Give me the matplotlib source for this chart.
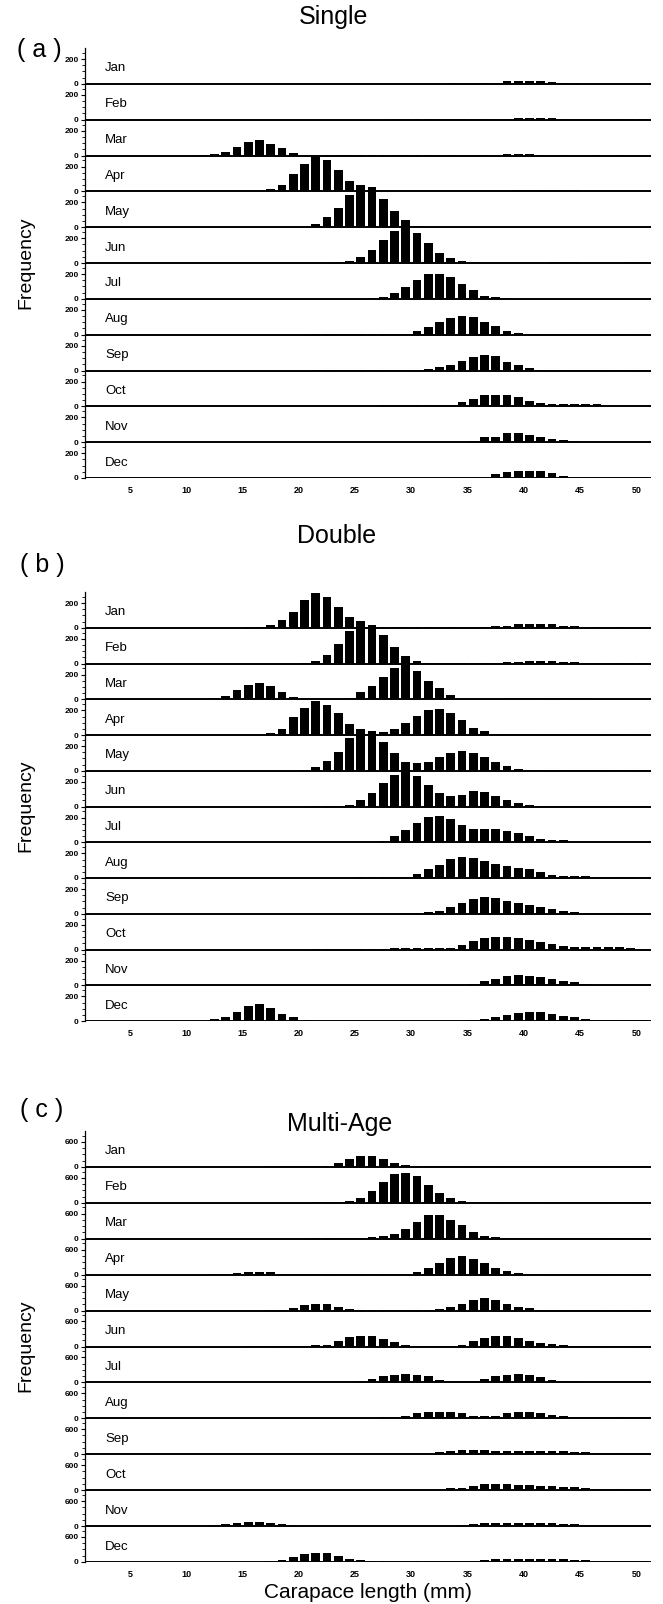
import matplotlib
matplotlib.use('Agg')
import matplotlib.pyplot as plt
import numpy as np
from matplotlib.ticker import FixedLocator

plt.rcParams['font.family'] = ['Liberation Sans', 'DejaVu Sans']

# ---------------- data ----------------
lengths = list(range(1, 51))          # 1-mm carapace length classes (lower bound, mm)
months = ['Jan', 'Feb', 'Mar', 'Apr', 'May', 'Jun',
          'Jul', 'Aug', 'Sep', 'Oct', 'Nov', 'Dec']
x_ticks = [5, 10, 15, 20, 25, 30, 35, 40, 45, 50]

# (a) Single
single_jan = [0]*10 + [0]*10 + [0,0,0,0,0,0,0,2,2,2] + [2,2,3,3,4,8,10,20,25,25] + [20,12,6,3,2,2,2,2,2,2]
single_feb = [0]*10 + [0]*10 + [0,0,0,0,0,0,0,2,2,2] + [2,2,2,2,3,3,5,8,10,12] + [15,15,8,5,3,3,2,2,2,2]
single_mar = [0]*10 + [3,10,28,72,110,128,97,59,20,4] + [3,2,2,2,2,2,2,2,2,2] + [2,2,3,3,4,6,8,10,10,10] + [8,5,4,3,3,2,2,2,2,2]
single_apr = [0]*10 + [0,0,0,0,2,5,20,51,143,223] + [277,251,171,86,25,8,3,2,2,2] + [2,2,2,2,3,3,4,5,8,12] + [12,12,10,8,4,3,2,2,2,2]
single_may = [0]*10 + [0,0,0,0,0,0,0,0,3,5] + [29,82,153,259,338,323,229,132,59,12] + [4,3,2,2,2,2,2,2,2,2] + [3,3,3,3,2,2,2,2,2,2]
single_jun = [0]*10 + [0]*10 + [2,2,5,14,50,108,185,255,285,240] + [160,82,40,17,5,3,3,3,2,2] + [3,8,8,8,3,2,2,3,5,5]
single_jul = [0]*10 + [0]*10 + [2,2,2,2,2,3,14,50,97,155] + [205,205,175,118,70,22,14,3,2,2] + [2,2,2,2,2,2,2,2,2,2]
single_aug = [0]*10 + [0]*10 + [2,2,2,2,2,2,2,2,5,28] + [62,106,138,155,140,105,67,33,12,3] + [2,2,2,2,2,2,2,2,2,2]
single_sep = [0]*10 + [0]*10 + [2,2,2,2,2,2,2,2,2,3] + [14,29,43,80,109,123,114,71,43,20] + [3,2,2,2,2,2,2,2,2,2]
single_oct = [0]*10 + [0]*10 + [2,2,2,2,2,2,8,8,8,8] + [10,10,12,32,61,88,93,93,75,45] + [29,16,16,16,16,16,3,2,2,2]
single_nov = [0]*10 + [0]*10 + [2,2,2,2,2,2,2,2,2,2] + [3,3,3,3,13,40,45,72,72,59] + [40,24,19,8,4,3,3,3,5,5]
single_dec = [0]*10 + [0,0,2,2,2,2,2,2,2,2] + [2,2,2,2,2,2,2,2,2,2] + [3,3,5,5,5,12,30,45,58,58] + [55,38,20,12,7,5,5,5,5,5]

# (b) Double
double_jan = [0]*10 + [0,0,0,2,3,6,19,61,125,228] + [278,250,172,89,20,5,3,3,3,3] + [3,3,3,3,5,8,14,14,33,33] + [33,30,17,14,8,6,6,6,6,3]
double_feb = [0]*10 + [0,0,0,0,0,0,0,0,0,3] + [20,70,157,261,348,316,229,131,58,20] + [5,3,2,2,2,3,5,10,12,18] + [22,20,15,10,8,6,5,4,3,3]
double_mar = [0]*10 + [5,14,27,74,115,132,104,60,22,4] + [2,2,3,14,55,104,178,252,274,233] + [151,88,33,6,3,3,5,8,10,10] + [12,12,10,10,8,5,4,3,3,3]
double_apr = [0]*10 + [0,0,0,0,3,3,20,49,143,220] + [272,243,177,86,29,20,23,49,94,157] + [206,209,177,120,57,29,12,6,6,6] + [6,6,6,6,6,6,6,6,6,6]
double_may = [0]*10 + [0,0,0,0,0,0,0,2,2,8] + [29,79,156,265,338,323,235,141,74,59] + [74,112,147,162,147,112,68,35,15,6] + [6,6,6,6,6,6,6,6,6,6]
double_jun = [0]*10 + [0]*10 + [2,2,5,14,50,111,189,258,278,245] + [172,111,83,97,125,120,83,56,28,14] + [6,6,6,6,6,6,6,6,6,6]
double_jul = [0]*10 + [0]*10 + [2,2,2,2,2,5,14,49,100,157] + [206,214,186,143,109,109,106,94,77,49] + [23,20,20,5,3,2,2,2,2,2]
double_aug = [0]*10 + [0]*10 + [2,2,2,2,5,5,5,5,8,33] + [69,103,153,167,161,139,117,97,83,69] + [50,22,14,14,14,12,12,10,6,3]
double_sep = [0]*10 + [0]*10 + [2,2,2,2,2,2,2,2,3,5] + [12,20,55,84,122,136,128,107,87,70] + [55,35,20,12,6,6,6,6,6,6]
double_oct = [0]*10 + [0]*10 + [2,2,2,2,2,2,2,12,12,12] + [12,12,15,40,67,93,101,101,93,75] + [61,45,27,21,21,21,21,18,15,5]
double_nov = [0]*10 + [0]*10 + [2,2,2,2,2,2,2,2,2,2] + [3,3,3,3,14,34,51,71,80,71] + [66,49,37,23,14,5,3,3,3,3]
double_dec = [0,0,0,0,0,0,0,0,3,3] + [4,14,34,77,120,137,106,57,29,8] + [3,3,3,3,3,3,3,3,3,3] + [3,3,3,3,5,14,29,49,66,71] + [71,57,43,29,14,5,5,5,5,5]

# (c) Multi-Age
multi_jan = [0]*10 + [0,0,0,0,0,0,15,15,15,15] + [17,25,100,183,250,250,192,100,42,20] + [20]*10 + [20]*10
multi_feb = [0]*10 + [0]*10 + [10,10,10,42,125,292,500,692,725,642] + [433,225,108,42,15,15,15,15,15,15] + [15]*10
multi_mar = [0]*10 + [0]*10 + [10,10,10,10,10,33,58,125,225,408] + [558,575,458,325,158,75,33,15,15,15] + [15]*10
multi_apr = [0]*10 + [0,10,17,42,67,75,67,25,15,12] + [12,12,12,12,12,12,12,12,25,67] + [150,275,400,442,383,275,167,83,42,25] + [15]*10
multi_may = [0]*10 + [0,0,0,0,0,0,10,25,67,125] + [150,150,92,42,25,10,10,10,10,10] + [10,42,92,167,250,292,250,150,92,50] + [25,15,15,15,10,10,10,10,10,10]
multi_jun = [0]*10 + [0,0,0,0,10,10,10,10,12,20] + [25,42,125,225,250,242,183,100,42,15] + [15,15,15,42,142,200,250,250,208,142] + [75,58,42,20,20,20,20,20,20,20]
multi_jul = [0]*10 + [0]*10 + [10,10,12,20,42,83,142,183,208,183] + [142,67,42,42,42,83,142,167,192,167] + [125,67,42,25,20,20,20,20,20,20]
multi_aug = [0]*10 + [0,0,0,0,0,0,0,0,10,10] + [12,12,12,12,12,12,25,33,58,117] + [142,142,142,117,58,58,58,117,142,142] + [117,75,58,42,33,33,33,33,33,33]
multi_sep = [0]*10 + [0]*10 + [10,10,10,10,10,10,10,10,12,12] + [12,42,83,108,108,92,83,83,83,83] + [83,67,67,50,42,25,25,25,25,25]
multi_oct = [0]*10 + [0]*10 + [10,10,10,10,15,15,15,15,15,15] + [15,15,42,58,100,142,150,142,125,125] + [108,100,83,67,42,25,25,25,25,25]
multi_nov = [0]*10 + [0,15,42,83,100,108,83,42,15,12] + [12]*10 + [12,12,12,25,42,67,83,83,83,83] + [83,67,58,42,25,15,15,15,15,15]
multi_dec = [0,0,0,0,0,0,0,8,8,8] + [8,8,8,8,8,8,20,42,125,183] + [225,208,142,83,42,15,15,15,15,15] + [15,15,15,15,15,58,67,67,83,83] + [83,67,67,58,42,25,25,25,25,25]

single = [single_jan, single_feb, single_mar, single_apr, single_may, single_jun,
          single_jul, single_aug, single_sep, single_oct, single_nov, single_dec]
double = [double_jan, double_feb, double_mar, double_apr, double_may, double_jun,
          double_jul, double_aug, double_sep, double_oct, double_nov, double_dec]
multi = [multi_jan, multi_feb, multi_mar, multi_apr, multi_may, multi_jun,
         multi_jul, multi_aug, multi_sep, multi_oct, multi_nov, multi_dec]

# ---------------- figure ----------------
W, H = 663, 1604
fig = plt.figure(figsize=(W / 100, H / 100), dpi=100)
fig.patch.set_facecolor('white')

LEFT, RIGHT = 85, 651
mid = [v + 0.5 for v in lengths]      # class mid-points


def panel(top, bottom, data, row_max, tick_val, minor_step):
    ax = fig.add_axes([LEFT / W, 1 - bottom / H, (RIGHT - LEFT) / W, (bottom - top) / H])
    ax.patch.set_alpha(0)
    n = len(data)
    for k, vals in enumerate(data):
        base = (n - 1 - k) * row_max
        ax.bar(mid, vals, width=0.78, bottom=base, color='black',
               linewidth=0, clip_on=False, zorder=2)
        ax.axhline(base, color='black', lw=1.4, zorder=3)
        ax.text(2.8, base + 0.43 * row_max, months[k], fontsize=9.5,
                ha='left', va='center')
    ax.set_xlim(1.0, 51.3)
    ax.set_ylim(0, n * row_max)
    major, labels = [], []
    for k in range(n):
        major += [k * row_max, k * row_max + tick_val]
        labels += ['0', str(tick_val)]
    ax.set_yticks(major)
    ax.set_yticklabels(labels, fontsize=6, fontweight='bold')
    minor = [k * row_max + m for k in range(n)
             for m in np.arange(minor_step, row_max, minor_step) if m != tick_val]
    ax.yaxis.set_minor_locator(FixedLocator(minor))
    ax.tick_params(axis='y', which='major', length=3, width=0.8, pad=1.5)
    ax.tick_params(axis='y', which='minor', length=2, width=0.6)
    ax.set_xticks(x_ticks)
    ax.set_xticklabels([str(v) for v in x_ticks], fontsize=6.5, fontweight='bold')
    ax.tick_params(axis='x', length=0, pad=6)
    for s in ['top', 'right', 'bottom']:
        ax.spines[s].set_visible(False)
    ax.spines['left'].set_linewidth(0.9)
    return ax


panel(48, 478, single, 290, 200, 50)
panel(592, 1021, double, 290, 200, 50)
panel(1131, 1562, multi, 860, 600, 150)


def ftext(x, y, s, **kw):
    fig.text(x / W, 1 - y / H, s, **kw)


ftext(334, 17, 'Single', fontsize=18, ha='center', va='center')
ftext(337, 536, 'Double', fontsize=18, ha='center', va='center')
ftext(340, 1124, 'Multi-Age', fontsize=18, ha='center', va='center')
ftext(39, 50, '( a )', fontsize=18, ha='center', va='center')
ftext(42, 565, '( b )', fontsize=18, ha='center', va='center')
ftext(42, 1110, '( c )', fontsize=18, ha='center', va='center')
for yc in [263, 806, 1346]:
    ftext(26, yc, 'Frequency', fontsize=14, rotation=90, ha='center', va='center')
ftext(368, 1593, 'Carapace length (mm)', fontsize=15, ha='center', va='center')

fig.savefig('out.png', dpi=100, facecolor='white')
